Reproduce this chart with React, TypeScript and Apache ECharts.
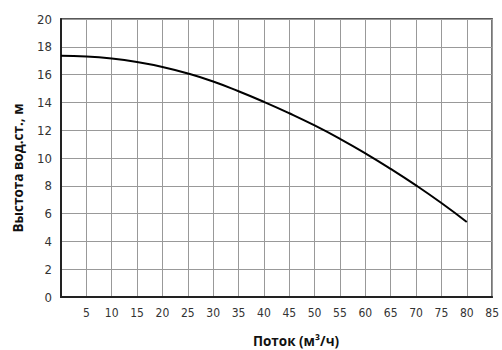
import React, { useEffect, useRef } from "react";
import * as echarts from "echarts";

const flow = [0, 5, 10, 15, 20, 25, 30, 35, 40, 45, 50, 55, 60, 65, 70, 75, 80];
const head = [17.35, 17.3, 17.15, 16.9, 16.55, 16.08, 15.5, 14.8, 14.04, 13.22, 12.34, 11.38, 10.34, 9.22, 8.03, 6.76, 5.4];
const xTitle = "Поток (м³/ч)";
const yTitle = "Выстота вод.ст., м";

export default function App() {
  const ref = useRef<HTMLDivElement>(null);
  useEffect(() => {
    document.body.style.margin = "0";
    if (!ref.current) return;
    const chart = echarts.init(ref.current, null, { renderer: "svg" });
    const tickFont = {
      fontFamily: "'DejaVu Sans Condensed', sans-serif",
      fontSize: 12,
      color: "#333",
    };
    const titleFont = {
      fontFamily: "'Open Sans', sans-serif",
      fontWeight: "bold",
      fontSize: 13.5,
      fill: "#111",
      align: "center",
      verticalAlign: "middle",
    };
    chart.setOption({
      animation: false,
      backgroundColor: "#fff",
      grid: {
        left: 61,
        right: 6,
        top: 19,
        bottom: 53,
        show: true,
        borderColor: "#222",
        borderWidth: 1.5,
        backgroundColor: "transparent",
      },
      xAxis: {
        type: "value",
        min: 0,
        max: 85,
        interval: 5,
        axisLine: { show: true, lineStyle: { color: "#222", width: 2 } },
        axisTick: { show: false },
        axisLabel: {
          ...tickFont,
          margin: 10,
          formatter: (v: number) => (v === 0 ? "" : String(v)),
        },
        splitLine: { show: true, lineStyle: { color: "#999", width: 1 } },
      },
      yAxis: {
        type: "value",
        min: 0,
        max: 20,
        interval: 2,
        axisLine: { show: true, lineStyle: { color: "#222", width: 2 } },
        axisTick: { show: false },
        axisLabel: { ...tickFont, fontSize: 13, margin: 9 },
        splitLine: { show: true, lineStyle: { color: "#999", width: 1 } },
      },
      graphic: [
        {
          type: "text",
          x: 296,
          y: 341,
          style: { text: xTitle, ...titleFont },
        },
        {
          type: "text",
          x: 18,
          y: 168,
          rotation: Math.PI / 2,
          style: { text: yTitle, ...titleFont },
        },
      ],
      series: [
        {
          type: "line",
          data: flow.map((f, i) => [f, head[i]]),
          smooth: true,
          showSymbol: false,
          lineStyle: { color: "#000", width: 2 },
        },
      ],
    });
    return () => chart.dispose();
  }, []);
  return <div ref={ref} style={{ width: 502, height: 350 }} />;
}
